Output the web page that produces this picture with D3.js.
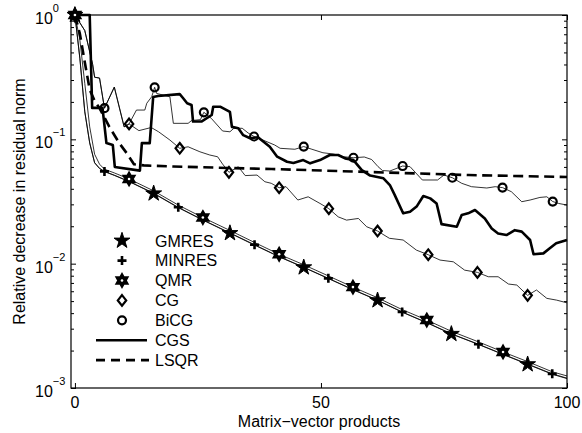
<!DOCTYPE html>
<html><head><meta charset="utf-8">
<script src="https://cdn.jsdelivr.net/npm/d3@7"></script>
<style>
body{margin:0;background:#fff}
svg text{font-family:"Liberation Sans",Arial,Helvetica,sans-serif;fill:#000}
</style>
</head><body>
<svg id="chart" width="582" height="433"></svg>
<script>
// ---------------- data ----------------
const xTicks = [0, 50, 100];
const yMajorTicks = [1e-3, 1e-2, 1e-1, 1];
const yTickExponents = ["\u22123", "\u22122", "\u22121", "0"];
const seriesNames = ["GMRES", "MINRES", "QMR", "CG", "BiCG", "CGS", "LSQR"];

const gmresData = [[0,1],[1,0.447],[2,0.166],[3,0.0933],[4,0.0646],[5,0.0582],[6,0.0550],[8,0.0513],[11,0.0457],[16,0.0367],[21,0.0282],[26,0.0224],[31.5,0.0176],[36.5,0.0141],[41.5,0.01135],[46.5,0.00933],[51.5,0.00759],[56.5,0.00617],[61.5,0.00507],[66.5,0.00407],[71.5,0.00335],[76.5,0.00272],[82,0.00224],[87,0.00186],[92,0.00155],[97,0.00129],[100,0.00119]];
const gmresMarks = [0,16,31.5,46.5,61.5,76.5,92];

const minresData = [[0,1],[1,0.452],[2,0.168],[3,0.0940],[4,0.0650],[5,0.0585],[6,0.0552],[8,0.0515],[11,0.0459],[16,0.0369],[21,0.0284],[26,0.0225],[31.5,0.0177],[36.5,0.0142],[41.5,0.01140],[46.5,0.00937],[51.5,0.00762],[56.5,0.00620],[61.5,0.00509],[66.5,0.00409],[71.5,0.00336],[76.5,0.00273],[82,0.00225],[87,0.00187],[92,0.00156],[97,0.00130],[100,0.00120]];
const minresMarks = [6,21,36.5,51.5,66.5,82,97];

const qmrData = [[0,1],[1,0.631],[2,0.282],[3,0.126],[4,0.0759],[5,0.0631],[6,0.0575],[8,0.0537],[11,0.0480],[16,0.0385],[21,0.0296],[26,0.0235],[31.5,0.0185],[36.5,0.0148],[41.5,0.0119],[46.5,0.00980],[51.5,0.00797],[56.5,0.00648],[61.5,0.00532],[66.5,0.00427],[71.5,0.00352],[76.5,0.00286],[82,0.00235],[87,0.00195],[92,0.00163],[97,0.00135],[100,0.00125]];
const qmrMarks = [0,11,26,41.5,56.5,71.5,87];

const cgData = [[0,1],[2,0.75],[3.6,0.40],[4,0.316],[5,0.311],[6,0.178],[8,0.263],[10,0.126],[11,0.133],[13,0.1175],[15.5,0.1245],[17,0.115],[19.3,0.0987],[21.3,0.0847],[23,0.0871],[25.4,0.0794],[27.4,0.0748],[29,0.0724],[30,0.0633],[31.3,0.0543],[33.2,0.0602],[34.6,0.0511],[37,0.0516],[38.6,0.0456],[39.9,0.0443],[41.5,0.0408],[42.9,0.0416],[45.3,0.0325],[47.4,0.0345],[49.8,0.0305],[51.6,0.0277],[53.5,0.0238],[55.2,0.0224],[57.6,0.0231],[59.3,0.0198],[61.5,0.0183],[63.9,0.0160],[66.7,0.0155],[69.4,0.01285],[71.8,0.0118],[74.2,0.01069],[76.9,0.01035],[79.2,0.00887],[81.8,0.00851],[84,0.00785],[86,0.00785],[88.1,0.00686],[89.8,0.00673],[92,0.00556],[93.8,0.00614],[95.9,0.00526],[97.9,0.00509],[100,0.00484]];
const cgMarks = [11,21.3,31.3,41.5,51.6,61.5,71.8,81.8,92];

const bicgData = [[0,1],[2,0.75],[3.6,0.40],[4,0.316],[5,0.311],[6,0.178],[8,0.263],[10,0.126],[11,0.133],[12.5,0.172],[14.2,0.172],[14.6,0.195],[15.6,0.220],[16.2,0.262],[16.6,0.234],[19.3,0.220],[20,0.1345],[23,0.1345],[23.7,0.1416],[25.5,0.144],[26.2,0.165],[27.7,0.1476],[30,0.1167],[31.5,0.115],[32.3,0.1227],[34,0.1227],[35.2,0.1125],[36.4,0.1054],[38.2,0.0987],[40.6,0.0900],[41.7,0.0847],[44.7,0.0832],[46.5,0.0875],[48,0.0836],[50.4,0.0780],[52.5,0.0762],[54.7,0.0724],[56.6,0.0711],[58.8,0.0721],[60.3,0.0688],[61.6,0.0603],[62.5,0.0561],[64,0.0556],[66.6,0.0610],[68.1,0.0603],[70.6,0.0471],[73.7,0.0471],[75,0.0516],[76.7,0.0491],[78.6,0.0443],[80.6,0.0416],[83.7,0.0406],[85.4,0.0416],[86.9,0.0409],[88.7,0.0379],[90.8,0.0315],[92.5,0.0325],[94.5,0.0341],[95.9,0.0345],[97.1,0.0316],[98.3,0.0305],[100,0.0296]];
const bicgMarks = [6,16.2,26.2,36.4,46.5,56.6,66.6,76.7,86.9,97.1];

const cgsData = [[0,1],[3,1],[3.5,0.179],[5.6,0.179],[6.4,0.0933],[7.7,0.0900],[8.1,0.0600],[13.2,0.0560],[13.6,0.0933],[15.2,0.0933],[15.9,0.219],[16.9,0.223],[21.3,0.231],[22,0.214],[22.8,0.195],[23.7,0.189],[24,0.139],[25.7,0.139],[27.8,0.157],[28.1,0.183],[29.5,0.183],[31.5,0.166],[31.9,0.126],[33.2,0.123],[34.2,0.108],[35.6,0.102],[37.2,0.104],[39.6,0.0872],[41.1,0.0725],[43.1,0.0660],[44.4,0.0645],[46.4,0.0681],[47.8,0.0641],[49.8,0.0681],[51.8,0.0748],[53.5,0.0748],[54.9,0.0703],[56.6,0.0681],[58.3,0.0566],[60,0.0511],[62.7,0.0486],[64,0.0429],[65,0.0356],[66.7,0.0254],[68.1,0.0262],[69.5,0.0290],[70.8,0.0350],[72.2,0.0335],[73.5,0.0305],[74.5,0.0208],[77.6,0.0198],[78.6,0.0246],[79.9,0.0254],[81.3,0.0270],[83.3,0.0231],[84.7,0.0192],[86,0.0175],[87.7,0.0170],[89.4,0.0186],[90.8,0.0181],[92.5,0.0155],[93.2,0.0119],[95.2,0.0121],[96.5,0.0133],[97.8,0.0146],[100,0.0155]];

const lsqrData = [[0,1],[1,0.708],[2,0.417],[3,0.251],[4,0.204],[5,0.178],[7,0.126],[9,0.0933],[10.5,0.0776],[12,0.0631],[14,0.0617],[20,0.0604],[40,0.0577],[60,0.0546],[80,0.0516],[100,0.0498]];

// ---------------- layout ----------------
const L = 71, R = 567, T = 15, B = 388;
const svg = d3.select("#chart");
const x = d3.scaleLinear().domain([-0.8, 100]).range([L, R]);
const y = d3.scaleLog().domain([1e-3, 1]).range([B, T]);
const line = d3.line().x(d => x(d[0])).y(d => y(d[1]));

function hexPath(Ro) {
  const ri = Ro / Math.sqrt(3); const p = [];
  for (let i = 0; i < 12; i++) {
    const a = -Math.PI / 2 + i * Math.PI / 6, r = i % 2 ? ri : Ro;
    p.push([r * Math.cos(a), r * Math.sin(a)]);
  }
  return "M" + p.map(q => q[0].toFixed(2) + "," + q[1].toFixed(2)).join("L") + "Z";
}
const markerDefs = {
  star:    { d: d3.symbol(d3.symbolStar, 78)(), fill: "#000", stroke: "#000", sw: 1 },
  plus:    { d: "M-4.5,0H4.5M0,-4.5V4.5", fill: "none", stroke: "#000", sw: 2.6 },
  hex:     { d: hexPath(6.8), fill: "#000", stroke: "#000", sw: 1.6 },
  diamond: { d: "M0,-5.3L4.2,0L0,5.3L-4.2,0Z", fill: "none", stroke: "#000", sw: 2.2 },
  circle:  { d: d3.symbol(d3.symbolCircle, Math.PI * 16)(), fill: "none", stroke: "#000", sw: 2.2 }
};
function drawMarker(g, type, px, py) {
  const m = markerDefs[type];
  g.append("path").attr("d", m.d).attr("transform", `translate(${px},${py})`)
    .attr("fill", m.fill).attr("stroke", m.stroke).attr("stroke-width", m.sw)
    .attr("stroke-linejoin", "miter");
  if (type === "hex") {
    g.append("circle").attr("cx", px).attr("cy", py).attr("r", 1.3).attr("fill", "#fff");
  }
}

// ---------------- axes ----------------
const axG = svg.append("g");
const minor = [];
[1e-3, 1e-2, 1e-1].forEach(dv => { for (let k = 2; k <= 9; k++) minor.push(dv * k); });

axG.append("g").attr("transform", `translate(0,${B})`)
  .call(d3.axisBottom(x).tickValues(xTicks).tickSize(-5).tickFormat(""));
axG.append("g").attr("transform", `translate(0,${T})`)
  .call(d3.axisTop(x).tickValues(xTicks).tickSize(-5).tickFormat(""));
axG.append("g").attr("transform", `translate(${L},0)`)
  .call(d3.axisLeft(y).tickValues(yMajorTicks).tickSize(-5).tickFormat(""));
axG.append("g").attr("transform", `translate(${L},0)`)
  .call(d3.axisLeft(y).tickValues(minor).tickSize(-3).tickFormat(""));
axG.append("g").attr("transform", `translate(${R},0)`)
  .call(d3.axisRight(y).tickValues(yMajorTicks).tickSize(-5).tickFormat(""));
axG.append("g").attr("transform", `translate(${R},0)`)
  .call(d3.axisRight(y).tickValues(minor).tickSize(-3).tickFormat(""));
axG.selectAll(".domain").remove();
axG.selectAll(".tick line").attr("stroke", "#000").attr("stroke-width", 1);

svg.append("rect").attr("x", L).attr("y", T).attr("width", R - L).attr("height", B - T)
  .attr("fill", "none").attr("stroke", "#000").attr("stroke-width", 1.2);

svg.append("g").selectAll("text").data(xTicks).join("text")
  .attr("x", d => x(d)).attr("y", 408).attr("text-anchor", "middle")
  .attr("font-size", 16).text(d => d);
const yl = svg.append("g").selectAll("text").data(yMajorTicks).join("text")
  .attr("x", 35).attr("y", d => y(d) + 9).attr("font-size", 16);
yl.append("tspan").text("10");
yl.append("tspan").attr("dy", -12).attr("font-size", 11).text((d, i) => yTickExponents[i]);

svg.append("text").attr("x", (L + R) / 2).attr("y", 427).attr("text-anchor", "middle")
  .attr("font-size", 16).text("Matrix\u2212vector products");
svg.append("text").attr("transform", `translate(25,${(T + B) / 2}) rotate(-90)`)
  .attr("text-anchor", "middle").attr("font-size", 16).text("Relative decrease in residual norm");

// ---------------- series ----------------
const plotG = svg.append("g");
function drawLine(data, sw, dash) {
  plotG.append("path").datum(data).attr("d", line).attr("fill", "none")
    .attr("stroke", "#000").attr("stroke-width", sw)
    .attr("stroke-dasharray", dash || null).attr("stroke-linejoin", "round");
}
drawLine(gmresData, 0.8);
drawLine(minresData, 0.8);
drawLine(qmrData, 0.8);
drawLine(cgData, 0.8);
drawLine(bicgData, 0.8);
drawLine(cgsData, 2.6);
drawLine(lsqrData, 2.6, "10,5.5");

const markG = svg.append("g");
function drawMarks(data, marks, type) {
  marks.forEach(mx => {
    const p = data.find(d => d[0] === mx);
    if (p) drawMarker(markG, type, x(p[0]), y(p[1]));
  });
}
drawMarks(gmresData, gmresMarks, "star");
drawMarks(minresData, minresMarks, "plus");
drawMarks(qmrData, qmrMarks, "hex");
drawMarks(cgData, cgMarks, "diamond");
drawMarks(bicgData, bicgMarks, "circle");

// ---------------- legend ----------------
const legG = svg.append("g");
const legTypes = ["star", "plus", "hex", "diamond", "circle", "line", "dash"];
seriesNames.forEach((name, i) => {
  const cy = 240.7 + i * 19.9;
  const t = legTypes[i];
  if (t === "line") {
    legG.append("line").attr("x1", 96).attr("x2", 147).attr("y1", cy).attr("y2", cy)
      .attr("stroke", "#000").attr("stroke-width", 2.6);
  } else if (t === "dash") {
    legG.append("line").attr("x1", 96).attr("x2", 149).attr("y1", cy).attr("y2", cy)
      .attr("stroke", "#000").attr("stroke-width", 2.6).attr("stroke-dasharray", "9,6");
  } else {
    drawMarker(legG, t, 122, cy);
  }
  legG.append("text").attr("x", 155).attr("y", cy + 5.8).attr("font-size", 16).text(name);
});
</script>
</body></html>
